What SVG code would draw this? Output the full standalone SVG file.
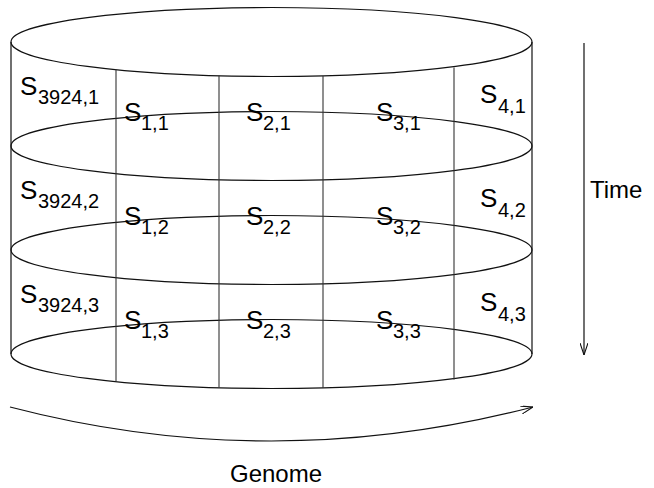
<svg xmlns="http://www.w3.org/2000/svg" width="654" height="488" viewBox="0 0 654 488">
  <style>
    .ln { fill: none; stroke: #111; stroke-width: 1.2; }
    .div { fill: none; stroke: #333; stroke-width: 1.1; }
    .s { font-family: "Liberation Sans", Arial, sans-serif; font-size: 26px; fill: #000; }
    .sub { font-size: 20px; }
    .lbl { font-family: "Liberation Sans", Arial, sans-serif; font-size: 24px; fill: #000; }
  </style>
  <defs>
    <marker id="chev" viewBox="0 0 12 8" refX="12" refY="4" markerWidth="12" markerHeight="8" markerUnits="userSpaceOnUse" orient="auto">
      <path d="M0,0 L12,4 L0,8" fill="none" stroke="#111" stroke-width="1.1"/>
    </marker>
  </defs>

  <rect width="654" height="488" fill="#fff"/>

  <!-- cylinder: stacked time slices -->
  <g id="cylinder">
    <line class="ln" x1="11" y1="42" x2="11" y2="354"/>
    <line class="ln" x1="532" y1="42" x2="532" y2="354"/>
    <ellipse class="ln" cx="271.5" cy="42" rx="260.5" ry="34.5"/>
    <ellipse class="ln" cx="271.5" cy="146" rx="260.5" ry="34.5"/>
    <ellipse class="ln" cx="271.5" cy="250" rx="260.5" ry="34.5"/>
    <ellipse class="ln" cx="271.5" cy="354" rx="260.5" ry="34.5"/>
    <!-- column dividers on the front face -->
    <line class="div" x1="116" y1="69.5" x2="116" y2="381.5"/>
    <line class="div" x1="219" y1="75.5" x2="219" y2="387.5"/>
    <line class="div" x1="323" y1="76" x2="323" y2="388"/>
    <line class="div" x1="454" y1="67.5" x2="454" y2="379.5"/>
  </g>

  <!-- row 1 -->
  <g id="s-3924-1"><text class="s" x="20" y="95">S<tspan class="sub" x="38" y="104">3924,1</tspan></text></g>
  <g id="s-1-1"><text class="s" x="124" y="121">S<tspan class="sub" x="141" y="130">1,1</tspan></text></g>
  <g id="s-2-1"><text class="s" x="246" y="121">S<tspan class="sub" x="263" y="130">2,1</tspan></text></g>
  <g id="s-3-1"><text class="s" x="376" y="121">S<tspan class="sub" x="393" y="130">3,1</tspan></text></g>
  <g id="s-4-1"><text class="s" x="480" y="103">S<tspan class="sub" x="498" y="113">4,1</tspan></text></g>

  <!-- row 2 -->
  <g id="s-3924-2"><text class="s" x="20" y="199">S<tspan class="sub" x="38" y="208">3924,2</tspan></text></g>
  <g id="s-1-2"><text class="s" x="124" y="225">S<tspan class="sub" x="141" y="234">1,2</tspan></text></g>
  <g id="s-2-2"><text class="s" x="246" y="225">S<tspan class="sub" x="263" y="234">2,2</tspan></text></g>
  <g id="s-3-2"><text class="s" x="376" y="225">S<tspan class="sub" x="393" y="234">3,2</tspan></text></g>
  <g id="s-4-2"><text class="s" x="480" y="207">S<tspan class="sub" x="498" y="217">4,2</tspan></text></g>

  <!-- row 3 -->
  <g id="s-3924-3"><text class="s" x="20" y="303">S<tspan class="sub" x="38" y="312">3924,3</tspan></text></g>
  <g id="s-1-3"><text class="s" x="124" y="329">S<tspan class="sub" x="141" y="338">1,3</tspan></text></g>
  <g id="s-2-3"><text class="s" x="246" y="329">S<tspan class="sub" x="263" y="338">2,3</tspan></text></g>
  <g id="s-3-3"><text class="s" x="376" y="329">S<tspan class="sub" x="393" y="338">3,3</tspan></text></g>
  <g id="s-4-3"><text class="s" x="480" y="311">S<tspan class="sub" x="498" y="321">4,3</tspan></text></g>

  <!-- axes -->
  <g id="connectors">
    <line class="ln" x1="584" y1="43" x2="584" y2="355" marker-end="url(#chev)"/>
    <path class="ln" d="M10,407 Q271,475 533,407" marker-end="url(#chev)"/>
  </g>

  <g id="time-label"><text class="lbl" x="590" y="198">Time</text></g>
  <g id="genome-label"><text class="lbl" x="276" y="482" text-anchor="middle">Genome</text></g>
</svg>
